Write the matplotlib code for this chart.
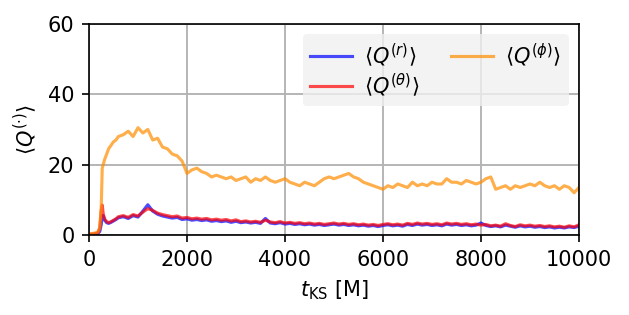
import numpy as np
import matplotlib
matplotlib.use('Agg')
import matplotlib.pyplot as plt

plt.rcParams.update({
    'font.family': 'DejaVu Sans',
    'font.size': 10,
    'mathtext.fontset': 'dejavusans',
})

# time samples [M]
t_early = [0, 100, 180, 220, 250, 270, 290, 320, 360, 400, 450, 500, 550]
t = t_early + list(range(600, 10001, 100))

# <Q^(r)>
q_r = [0.1, 0.2, 0.4, 1.0, 3.0, 5.5, 5.5, 4.2, 3.5, 3.3, 3.6, 4.0, 4.4,
       4.9, 5.2, 4.7, 5.5,
       5.1, 6.8, 8.6, 6.8, 5.9, 5.4, 5.1, 4.8, 5.0, 4.4,
       4.6, 4.2, 4.4, 4.1, 4.3, 3.9, 4.1, 3.8, 4.0, 3.6,
       3.9, 3.5, 3.7, 3.4, 3.6, 3.3, 4.7, 3.4, 3.2, 3.5,
       3.1, 3.3, 3.0, 3.2, 2.9, 3.1, 2.8, 3.0, 2.7, 2.9,
       3.1, 2.8, 3.0, 2.7, 2.9, 2.6, 2.8, 2.5, 2.7, 2.4,
       2.7, 2.9, 2.6, 2.8, 2.5, 3.0, 2.7, 3.1, 2.8, 3.0,
       2.7, 2.9, 2.6, 3.1, 2.8, 3.0, 2.7, 2.9, 2.6, 2.8,
       3.4, 2.7, 2.4, 2.6, 2.3, 2.8, 2.5, 2.2, 2.6, 2.3,
       2.5, 2.2, 2.4, 2.1, 2.3, 2.0, 2.2, 2.0, 2.3, 2.1,
       2.5]

# <Q^(theta)>
q_theta = [0.2, 0.3, 0.6, 2.0, 7.0, 8.5, 6.0, 4.5, 3.8, 3.5, 3.8, 4.2, 4.6,
           5.2, 5.5, 5.0, 5.8,
           5.4, 6.5, 7.5, 7.0, 6.2, 5.8, 5.5, 5.2, 5.4, 4.8,
           5.0, 4.6, 4.8, 4.5, 4.7, 4.3, 4.5, 4.2, 4.4, 4.0,
           4.3, 3.8, 4.0, 3.7, 3.9, 3.6, 4.2, 3.7, 3.5, 3.8,
           3.4, 3.6, 3.3, 3.5, 3.2, 3.4, 3.1, 3.3, 3.0, 3.2,
           3.4, 3.1, 3.3, 3.0, 3.2, 2.9, 3.1, 2.8, 3.0, 2.7,
           3.0, 3.2, 2.9, 3.1, 2.8, 3.3, 3.0, 3.4, 3.1, 3.3,
           3.0, 3.2, 2.9, 3.4, 3.1, 3.3, 3.0, 3.2, 2.9, 3.1,
           2.8, 3.0, 2.6, 2.8, 2.5, 3.2, 2.7, 2.4, 2.9, 2.6,
           2.8, 2.5, 2.7, 2.4, 2.6, 2.3, 2.5, 2.2, 2.6, 2.3,
           2.9]

# <Q^(phi)>
q_phi = [0.3, 0.5, 0.8, 2.0, 8.0, 19.0, 20.0, 21.5, 23.0, 24.5, 25.5, 26.5, 27.0,
         28.0, 28.5, 29.5, 28.0,
         30.5, 29.0, 30.0, 27.0, 27.5, 25.0, 24.5, 23.0, 22.5, 21.0,
         17.5, 18.5, 19.0, 18.0, 17.5, 16.5, 17.0, 16.5, 16.0, 16.5,
         15.5, 16.0, 16.5, 15.0, 16.0, 15.5, 16.5, 15.5, 15.0, 15.5,
         16.0, 15.0, 14.5, 14.0, 15.0, 14.5, 14.0, 15.0, 16.0, 16.5,
         16.0, 16.5, 17.0, 17.5, 16.5, 16.0, 15.0, 14.5, 14.0, 13.5,
         13.0, 14.0, 13.5, 14.5, 14.0, 13.5, 15.0, 14.0, 14.5, 14.0,
         15.0, 14.5, 14.5, 16.0, 15.0, 15.0, 14.5, 15.5, 15.0, 14.5,
         15.0, 16.0, 16.5, 13.0, 13.5, 14.0, 13.0, 14.0, 13.5, 14.0,
         14.5, 14.0, 15.0, 14.0, 13.5, 14.0, 13.0, 14.0, 13.5, 12.0,
         13.5]

assert len(t) == len(q_r) == len(q_theta) == len(q_phi)

fig = plt.figure(figsize=(629 / 150, 315 / 150), dpi=150)
ax = fig.add_axes([0.1415, 0.254, 0.779, 0.670])

ax.plot(t, q_r, color='blue', alpha=0.7, lw=1.5, label=r'$\langle Q^{(r)} \rangle$')
ax.plot(t, q_theta, color='red', alpha=0.7, lw=1.5, label=r'$\langle Q^{(\theta)} \rangle$')
ax.plot(t, q_phi, color='darkorange', alpha=0.7, lw=1.5, label=r'$\langle Q^{(\phi)} \rangle$')

ax.set_xlim(0, 10000)
ax.set_ylim(0, 60)
ax.set_xticks([0, 2000, 4000, 6000, 8000, 10000])
ax.set_yticks([0, 20, 40, 60])
ax.grid(True, color='0.7', lw=0.9)
ax.set_axisbelow(True)
ax.set_xlabel(r'$t_{\rm KS}$ [M]')
ax.set_ylabel(r'$\langle Q^{(\cdot)} \rangle$')

leg = ax.legend(loc='upper right', ncol=2, facecolor='0.94', framealpha=0.8,
                edgecolor='none', handletextpad=0.6, labelspacing=0.1,
                borderpad=0.35, columnspacing=1.5)

fig.savefig('out.png', dpi=150)
